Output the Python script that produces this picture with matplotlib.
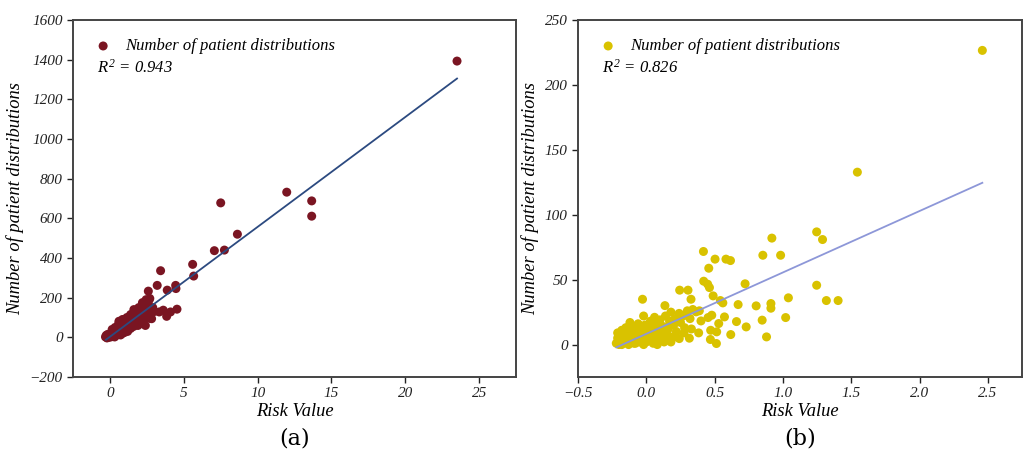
import numpy as np
import matplotlib
matplotlib.use("Agg")
import matplotlib.pyplot as plt

plt.rcParams["font.family"] = ["Liberation Serif", "DejaVu Serif"]
plt.rcParams["font.style"] = "italic"
plt.rcParams["mathtext.fontset"] = "custom"
plt.rcParams["mathtext.rm"] = "Liberation Serif:italic"
plt.rcParams["mathtext.it"] = "Liberation Serif:italic"

# ---- panel (a) data: risk value vs number of patients ----
risk_a = [-0.30, -0.25, -0.20, -0.15, -0.10, -0.05, 0.00, 0.05, 0.10, 0.12,
          0.18, 0.20, 0.25, 0.30, 0.32, 0.35, 0.40, 0.42, 0.45, 0.50,
          0.52, 0.55, 0.60, 0.61, 0.62, 0.65, 0.70, 0.72, 0.75, 0.80,
          0.82, 0.85, 0.90, 0.95, 1.00, 1.00, 1.05, 1.10, 1.15, 1.20,
          1.25, 1.30, 1.35, 1.40, 1.45, 1.50, 1.55, 1.60, 1.62, 1.65,
          1.70, 1.75, 1.80, 1.85, 1.90, 1.95, 2.00, 2.05, 2.10, 2.15,
          2.20, 2.25, 2.30, 2.35, 2.40, 2.45, 2.50, 2.55, 2.60, 2.64,
          2.70, 2.70, 2.75, 2.82, 2.90, 3.00, 3.20, 3.34, 3.43, 3.61,
          3.84, 3.88, 4.10, 4.45, 4.47, 4.54, 5.60, 5.67, 7.07, 7.50,
          7.75, 8.63, 11.97, 13.66, 13.66, 23.50,
          0.30, 0.45, 0.55, 0.70, 0.90, 1.10, 1.30, 1.50, 1.70, 1.90, 2.10, 2.30,
          0.15, 0.35, 0.60, 0.85, 1.15, 1.40, 1.65, 1.95, 2.20, 2.45]
patients_a = [2, 10, -3, 15, 5, 0, 8, 20, 3, 12,
              25, 6, 15, 30, 2, 18, 40, 10, 25, 50,
              15, 30, 60, 81, 20, 38, 55, 12, 28, 45,
              65, 20, 35, 55, 70, 25, 40, 60, 85, 30,
              50, 75, 95, 45, 65, 90, 110, 55, 140, 80,
              100, 70, 120, 90, 60, 110, 80, 130, 100, 70,
              145, 115, 90, 160, 60, 130, 105, 170, 233, 187,
              196, 140, 95, 94, 150, 130, 262, 128, 336, 137,
              106, 238, 128, 262, 246, 142, 368, 309, 437, 678,
              440, 520, 732, 688, 611, 1393,
              8, 14, 20, 22, 30, 38, 46, 58, 62, 75, 85, 100,
              40, 50, 70, 90, 100, 115, 125, 150, 175, 190]
slope_a, intercept_a = 55.4, 3.0
fit_x_a = [-0.27, 23.5]

# ---- panel (b) data ----
risk_b = [-0.22, -0.21, -0.21, -0.20, -0.19, -0.18, -0.18, -0.17, -0.16, -0.15,
          -0.15, -0.14, -0.13, -0.12, -0.12, -0.11, -0.10, -0.10, -0.09, -0.08,
          -0.07, -0.06, -0.06, -0.05, -0.04, -0.03, -0.02, -0.02, -0.01, 0.00,
          0.01, 0.02, 0.03, 0.04, 0.05, 0.05, 0.06, 0.07, 0.08, 0.08,
          0.09, 0.10, 0.10, 0.11, 0.12, 0.13, 0.14, 0.15, 0.16, 0.17,
          0.18, 0.19, 0.20, 0.21, 0.22, 0.24, 0.25, 0.27, 0.28, 0.30,
          0.32, 0.34, -0.028, 0.136, 0.19, 0.241, 0.244, 0.276, 0.305, 0.315,
          0.327, 0.33, 0.364, 0.383, 0.388, 0.40, 0.418, 0.42, 0.449, 0.452,
          0.457, 0.462, 0.469, 0.471, 0.479, 0.489, 0.503, 0.513, 0.515, 0.53,
          0.542, 0.56, 0.572, 0.583, 0.616, 0.618, 0.66, 0.672, 0.723, 0.731,
          0.804, 0.848, 0.853, 0.88, 0.912, 0.912, 0.919, 0.983, 1.02, 1.04,
          1.247, 1.247, 1.29, 1.318, 1.404, 1.545, 2.46,
          -0.20, -0.17, -0.13, -0.08, -0.04, 0.00, 0.03, 0.07, 0.12, 0.16,
          -0.19, -0.16, -0.11, -0.07, -0.03, 0.02, 0.06, 0.09, 0.14, 0.18]
patients_b = [1, 5, 9, 3, 7, 0, 11, 4, 8, 2,
              13, 6, 0, 10, 17, 4, 7, 14, 1, 11,
              5, 9, 16, 2, 12, 6, 0, 22, 15, 9,
              3, 12, 18, 6, 1, 14, 21, 8, 0, 16,
              11, 4, 19, 9, 14, 2, 22, 8, 12, 18,
              25, 5, 15, 20, 10, 24, 17, 22, 13, 26,
              20, 27, 34.9, 30, 5.9, 4.6, 41.9, 9, 41.9, 4.9,
              34.9, 12, 25.2, 9, 26, 18.2, 71.7, 48.8, 46.5, 20.8,
              58.8, 43.9, 3.9, 11, 22.6, 37.5, 65.8, 0.8, 9.8, 16.2,
              33.9, 32.1, 21.3, 65.8, 64.7, 7.7, 17.7, 30.8, 46.8, 13.6,
              29.8, 18.8, 68.8, 5.9, 31.6, 28, 82, 68.8, 20.8, 36,
              86.8, 45.7, 80.9, 33.9, 33.9, 132.8, 226.6,
              0, 2, 3, 1, 4, 2, 5, 3, 6, 4,
              6, 10, 12, 3, 8, 10, 4, 13, 10, 2]
slope_b, intercept_b = 47.3, 8.25
fit_x_b = [-0.22, 2.46]

fig = plt.figure(figsize=(10.24, 4.55), dpi=100)
ax1 = fig.add_axes([0.0713, 0.1714, 0.4327, 0.7846])
ax2 = fig.add_axes([0.5645, 0.1714, 0.4335, 0.7846])

panels = [
    (ax1, risk_a, patients_a, slope_a, intercept_a, fit_x_a, "#7a1522", "#2c4a80", "0.943", "(a)"),
    (ax2, risk_b, patients_b, slope_b, intercept_b, fit_x_b, "#d9c200", "#8d97d8", "0.826", "(b)"),
]

for ax, xs, ys, m, c, fx, pcol, lcol, r2, tag in panels:
    ax.scatter(xs, ys, s=42, color=pcol, edgecolors="none",
               label="Number of patient distributions", zorder=2)
    fx = np.array(fx)
    ax.plot(fx, m * fx + c, color=lcol, lw=1.3, zorder=3)
    ax.legend(loc="upper left", frameon=False, fontsize=12, handletextpad=0.3,
              borderaxespad=0.7, bbox_to_anchor=(-0.011, 1.0))
    ax.text(0.055, 0.865, r"$R^2$ = " + r2, transform=ax.transAxes,
            fontsize=12, ha="left", va="center")
    ax.set_xlabel("Risk Value", fontsize=13.3, labelpad=2)
    ax.set_ylabel("Number of patient distributions", fontsize=13.3, labelpad=4)
    for sp in ax.spines.values():
        sp.set_color("#444444")
        sp.set_linewidth(1.4)
    ax.tick_params(direction="out", length=4, width=1, labelsize=11, colors="#222222")
    ax.text(0.5, -0.171, tag, transform=ax.transAxes, fontsize=16, style="normal",
            family="DejaVu Serif", ha="center", va="center")

ax1.set_xlim(-2.5, 27.5)
ax1.set_ylim(-200, 1600)
ax1.set_xticks([0, 5, 10, 15, 20, 25])
ax1.set_yticks(range(-200, 1601, 200))

ax2.set_xlim(-0.5, 2.75)
ax2.set_ylim(-25, 250)
ax2.set_xticks([-0.5, 0.0, 0.5, 1.0, 1.5, 2.0, 2.5])
ax2.set_yticks([0, 50, 100, 150, 200, 250])

for ax in (ax1, ax2):
    for lab in ax.get_xticklabels() + ax.get_yticklabels():
        lab.set_fontstyle("italic")

fig.savefig("out.png", dpi=100)
